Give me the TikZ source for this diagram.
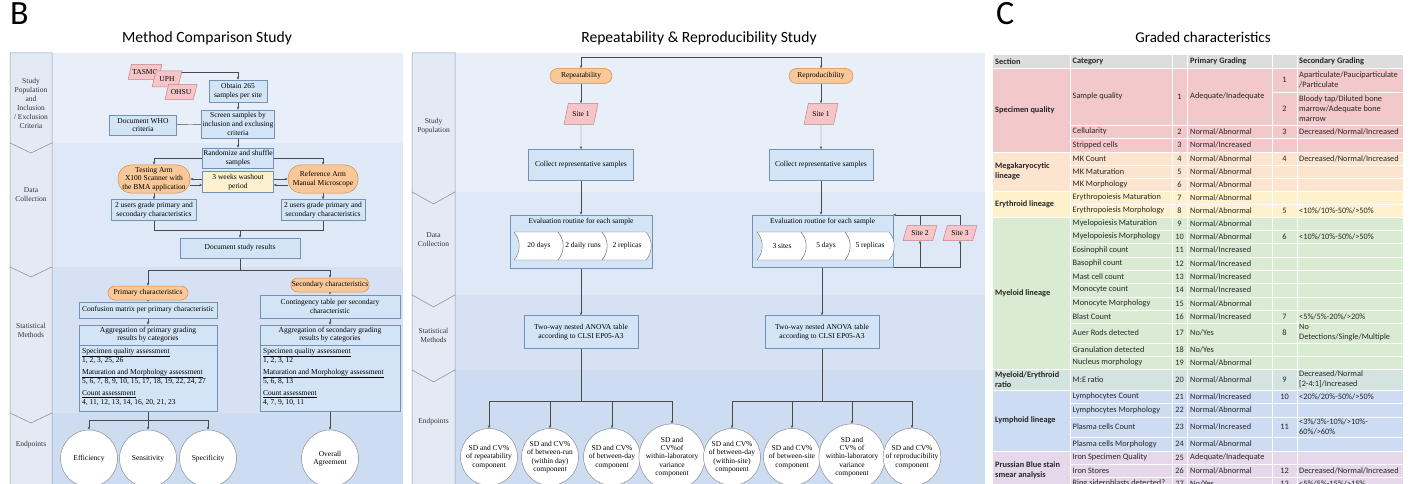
\documentclass[tikz,border=0pt]{standalone}
\usepackage{fontspec}
\setmainfont{Liberation Serif}
\newfontfamily\calib{Carlito}
\usetikzlibrary{shapes.geometric,arrows.meta}
\pgfdeclarelayer{back}\pgfdeclarelayer{lines}\pgfsetlayers{back,lines,main}
\definecolor{boxf}{HTML}{D2E4F6}
\definecolor{boxd}{HTML}{7391B4}
\definecolor{orgf}{HTML}{F9C898}
\definecolor{orgd}{HTML}{D38A4C}
\definecolor{pinkf}{HTML}{F6C5C8}
\definecolor{pinkd}{HTML}{C98088}
\definecolor{yelf}{HTML}{FDF0CF}
\definecolor{linec}{HTML}{4A4A4A}
\definecolor{laneA}{HTML}{E9EFF9}
\definecolor{laneB}{HTML}{DFE8F6}
\definecolor{laneC}{HTML}{D6E2F4}
\definecolor{laneD}{HTML}{CEDCF2}
\definecolor{labf}{HTML}{E4EAF4}
\definecolor{labd}{HTML}{8D9AAD}
\definecolor{tgray}{HTML}{DDDDDD}
\definecolor{tpink}{HTML}{F2C8CB}
\definecolor{torg}{HTML}{FCE4CF}
\definecolor{tyel}{HTML}{FEF2CD}
\definecolor{tgrn}{HTML}{DAEBD4}
\definecolor{tteal}{HTML}{D3E3DF}
\definecolor{tblu}{HTML}{CDDCF2}
\definecolor{tpur}{HTML}{E4D8EA}
\tikzset{
 ff/.style={font=\fontsize{7.5}{8.6}\selectfont},
 lab/.style={font=\fontsize{7.5}{9}\selectfont, align=center, text=black!80},
 bx/.style={draw=boxd, fill=boxf, line width=0.5pt, align=center, inner sep=1pt, ff},
 orng/.style={draw=orgd, fill=orgf, line width=0.5pt, align=center, inner sep=1pt, ff},
 para/.style={trapezium, trapezium left angle=65, trapezium right angle=115, trapezium stretches=true, draw=pinkd, fill=pinkf, line width=0.5pt, ff, inner sep=1pt},
 circ/.style={circle, draw=black!45, fill=white, line width=0.5pt, minimum size=57pt, inner sep=0pt, align=center, font=\fontsize{7.5}{8.4}\selectfont},
 arr/.style={-{Stealth[length=3pt,width=2.4pt]}, draw=linec, line width=0.45pt},
 ln/.style={draw=linec, line width=0.45pt},
 tt/.style={font=\calib\fontsize{8.3}{10}\selectfont, inner sep=0pt, align=left, text=black!85},
 tth/.style={font=\calib\bfseries\fontsize{8.3}{10}\selectfont, inner sep=0pt, align=left, text=black!85},
 sepl/.style={draw=white, line width=0.8pt},
 ttl/.style={font=\calib\fontsize{15.6}{18}\selectfont, anchor=base},
 big/.style={font=\calib\fontsize{34}{34}\selectfont, anchor=base west, inner sep=0pt},
}
\newcommand\chevshape[3]{%
 \draw[draw=black!55, fill=white, line width=0.4pt] (#1,232) .. controls (#1+7,240) and (#1+7,252) .. (#1,260) -- (#1+44,260) .. controls (#1+51,252) and (#1+51,240) .. (#1+44,232) -- cycle;
 \node[ff] (#3) at (#1+25,246) {#2};}
\begin{document}
\begin{tikzpicture}[x=1pt,y=-1pt]
\useasboundingbox (0,0) rectangle (1414,484);
\begin{pgfonlayer}{back}
\fill[white] (0,0) rectangle (1414,484);
% left panel lanes
\fill[laneA] (52,53) rectangle (403,143);
\fill[laneB] (52,143) rectangle (403,267);
\fill[laneC] (52,267) rectangle (403,413);
\fill[laneD] (52,413) rectangle (403,484);
\begin{scope}[fill=labf, draw=labd, line width=0.5pt]
\filldraw (10,53) -- (52,53) -- (52,143) -- (31,153) -- (10,143) -- cycle;
\filldraw (10,143) -- (31,153) -- (52,143) -- (52,267) -- (31,277) -- (10,267) -- cycle;
\filldraw (10,267) -- (31,277) -- (52,267) -- (52,413) -- (31,423) -- (10,413) -- cycle;
\filldraw (10,413) -- (31,423) -- (52,413) -- (52,490) -- (10,490) -- cycle;
\end{scope}
% middle panel lanes
\fill[laneA] (455,53) rectangle (985,192);
\fill[laneB] (455,192) rectangle (985,295);
\fill[laneC] (455,295) rectangle (985,370);
\fill[laneD] (455,370) rectangle (985,484);
\begin{scope}[fill=labf, draw=labd, line width=0.5pt]
\filldraw (412,53) -- (455,53) -- (455,192) -- (433.5,204) -- (412,192) -- cycle;
\filldraw (412,192) -- (433.5,204) -- (455,192) -- (455,295) -- (433.5,307) -- (412,295) -- cycle;
\filldraw (412,295) -- (433.5,307) -- (455,295) -- (455,370) -- (433.5,382) -- (412,370) -- cycle;
\filldraw (412,370) -- (433.5,382) -- (455,370) -- (455,490) -- (412,490) -- cycle;
\end{scope}
% table bands
\fill[tgray] (993,55) rectangle (1403,68);
\fill[tpink] (993,68) rectangle (1403,152);
\fill[torg] (993,152) rectangle (1403,191);
\fill[tyel] (993,191) rectangle (1403,217);
\fill[tgrn] (993,217) rectangle (1403,369);
\fill[tteal] (993,369) rectangle (1403,390);
\fill[tblu] (993,390) rectangle (1403,451);
\fill[tpur] (993,451) rectangle (1403,490);
\end{pgfonlayer}

% headings
\node[big] (lB) at (10,25) {B};
\node[big] (lC) at (996,25) {C};
\node[ttl] (t1) at (207,43) {Method Comparison Study};
\node[ttl] (t2) at (699,43) {Repeatability \& Reproducibility Study};
\node[ttl, font=\calib\fontsize{15}{18}\selectfont] (t3) at (1203,43) {Graded characteristics};

% lane labels
\node[lab] (la1) at (31,103.5) {Study\\Population\\and\\Inclusion\\/ Exclusion\\Criteria};
\node[lab] (la2) at (31,195) {Data\\Collection};
\node[lab] (la3) at (31,330) {Statistical\\Methods};
\node[lab] (la4) at (31,445) {Endpoints};
\node[lab] (lb1) at (433.5,126) {Study\\Population};
\node[lab] (lb2) at (433.5,240) {Data\\Collection};
\node[lab] (lb3) at (433.5,335) {Statistical\\Methods};
\node[lab] (lb4) at (433.5,422) {Endpoints};

% ---------- left panel ----------
\node[para, minimum width=28pt, minimum height=15pt] (tasmc) at (145,72) {TASMC};
\node[para, minimum width=30pt, minimum height=16pt] (uph) at (167,79) {UPH};
\node[para, minimum width=32pt, minimum height=15pt] (ohsu) at (181,92) {OHSU};
\node[bx, minimum width=58pt, minimum height=22pt] (obtain) at (238,91) {Obtain 265\\samples per site};
\node[bx, minimum width=71pt, minimum height=28pt] (screen) at (238,124) {Screen samples by\\inclusion and exclusing\\criteria};
\node[bx, minimum width=67pt, minimum height=20pt] (who) at (143,125) {Document WHO\\criteria};
\node[bx, minimum width=71pt, minimum height=20pt] (rand) at (238,158) {Randomize and shuffle\\samples};
\node[orng, rounded corners=13pt, minimum width=72pt, minimum height=28pt] (test) at (154,179) {Testing Arm\\X100 Scanner with\\the BMA application};
\node[bx, fill=yelf, minimum width=71pt, minimum height=21pt] (wash) at (238,182) {3 weeks washout\\period};
\node[orng, rounded corners=13pt, minimum width=70pt, minimum height=28pt] (ref) at (323,179) {Reference Arm\\Manual Microscope};
\node[bx, minimum width=85pt, minimum height=21pt] (usrL) at (154,210) {2 users grade primary and\\secondary characteristics};
\node[bx, minimum width=84pt, minimum height=21pt] (usrR) at (323,210) {2 users grade primary and\\secondary characteristics};
\node[bx, minimum width=120pt, minimum height=20pt] (doc) at (240,248) {Document study results};
\node[orng, rounded corners=7pt, minimum width=80pt, minimum height=14pt] (prim) at (148,293) {Primary characteristics};
\node[orng, rounded corners=7pt, minimum width=78pt, minimum height=14pt] (sec) at (330,285) {Secondary characteristics};
\node[bx, minimum width=138pt, minimum height=16pt] (conf) at (148,310) {Confusion matrix per primary characteristic};
\node[bx, minimum width=140pt, minimum height=23pt] (cont) at (330,306.5) {Contingency table per secondary\\characteristic};
\node[bx, minimum width=138pt, minimum height=86pt] (aggP) at (148,368) {};
\node[bx, minimum width=140pt, minimum height=86pt] (aggS) at (330,368) {};
\draw[draw=boxd, line width=0.5pt] (79,345) -- (217,345);
\draw[draw=boxd, line width=0.5pt] (260,345) -- (400,345);
\node[ff, align=center] (aggPh) at (148,334.5) {Aggregation of primary grading\\results by categories};
\node[ff, align=center] (aggSh) at (330,334.5) {Aggregation of secondary grading\\results by categories};
\node[anchor=north west, align=left, inner sep=0pt, font=\fontsize{7.5}{9}\selectfont] (aggPb) at (82,348) {\underline{Specimen quality assessment}\\1, 2, 3, 25, 26\\[3pt]\underline{Maturation and Morphology assessment}\\5, 6, 7, 8, 9, 10, 15, 17, 18, 19, 22, 24, 27\\[3pt]\underline{Count assessment}\\4, 11, 12, 13, 14, 16, 20, 21, 23};
\node[anchor=north west, align=left, inner sep=0pt, font=\fontsize{7.5}{9}\selectfont] (aggSb) at (263,348) {\underline{Specimen quality assessment}\\1, 2, 3, 12\\[3pt]\underline{Maturation and Morphology assessment}\\5, 6, 8, 13\\[3pt]\underline{Count assessment}\\4, 7, 9, 10, 11};
\node[circ] (eff) at (89,458.5) {Efficiency};
\node[circ] (sens) at (148,458.5) {Sensitivity};
\node[circ] (spec) at (208,458.5) {Specificity};
\node[circ] (over) at (330,458.5) {Overall\\Agreement};

% ---------- middle panel ----------
\node[orng, rounded corners=7.5pt, minimum width=62pt, minimum height=15pt] (rep) at (581,76) {Repeatability};
\node[orng, rounded corners=7.5pt, minimum width=64pt, minimum height=15pt] (repro) at (821,76) {Reproducibility};
\node[para, minimum width=34pt, minimum height=21pt] (s1L) at (581,114) {Site 1};
\node[para, minimum width=34pt, minimum height=21pt] (s1R) at (821,114) {Site 1};
\node[bx, minimum width=105pt, minimum height=31pt] (colL) at (581,165) {Collect representative samples};
\node[bx, minimum width=104pt, minimum height=31pt] (colR) at (821,165) {Collect representative samples};
\node[bx, minimum width=142pt, minimum height=53pt] (evL) at (581,241.5) {};
\node[bx, minimum width=141pt, minimum height=52pt] (evR) at (822.5,241) {};
\node[ff] (evLt) at (581,222) {Evaluation routine for each sample};
\node[ff] (evRt) at (822.5,222) {Evaluation routine for each sample};
\chevshape{514}{20 days}{chA}
\chevshape{558}{2 daily runs}{chB}
\chevshape{602}{2 replicas}{chC}
\chevshape{757}{3 sites}{chD}
\chevshape{801}{5 days}{chE}
\chevshape{845}{5 replicas}{chF}
\node[para, minimum width=34pt, minimum height=15pt] (s2) at (920,233) {Site 2};
\node[para, minimum width=34pt, minimum height=15pt] (s3) at (960,233) {Site 3};
\node[bx, minimum width=114pt, minimum height=33pt] (anL) at (581,332) {Two-way nested ANOVA table\\according to CLSI EP05-A3};
\node[bx, minimum width=114pt, minimum height=33pt] (anR) at (822,332) {Two-way nested ANOVA table\\according to CLSI EP05-A3};
\node[circ] (c1) at (489,457) {SD and CV\%\\of repeatability\\component};
\node[circ] (c2) at (550,457) {SD and CV\%\\of between-run\\(within day)\\component};
\node[circ] (c3) at (612,457) {SD and CV\%\\of between-day\\component};
\node[circ] (c4) at (672,457) {SD and\\CV\%of\\within-laboratory\\variance\\component};
\node[circ] (c5) at (732,457) {SD and CV\%\\of between-day\\(within-site)\\component};
\node[circ] (c6) at (792,457) {SD and CV\%\\of between-site\\component};
\node[circ] (c7) at (852,457) {SD and\\CV\% of\\within-laboratory\\variance\\component};
\node[circ] (c8) at (912,457) {SD and CV\%\\of reproducibility\\component};

% ---------- connectors ----------
\begin{pgfonlayer}{lines}
\draw[arr] (tasmc.east) -| (obtain.north);
\draw[arr] (obtain) -- (screen);
\draw[ln] (who) -- (screen);
\draw[arr] (screen) -- (rand);
\draw[arr] (rand.west) -| (test.north);
\draw[arr] (rand.east) -| (ref.north);
\coordinate (wl1) at ([yshift=3pt]wash.west);
\coordinate (wl2) at ([yshift=-3pt]wash.west);
\coordinate (wr1) at ([yshift=3pt]wash.east);
\coordinate (wr2) at ([yshift=-3pt]wash.east);
\draw[arr] (wl1) -- (wl1 -| test.east);
\draw[arr] (wl2 -| test.east) -- (wl2);
\draw[arr] (wr1) -- (wr1 -| ref.west);
\draw[arr] (wr2 -| ref.west) -- (wr2);
\draw[arr] (test) -- (usrL);
\draw[arr] (ref) -- (usrR);
\coordinate (mj) at (240,230);
\draw[ln] (usrL.south) |- (mj);
\draw[ln] (usrR.south) |- (mj);
\draw[arr] (mj) -- (doc.north);
\coordinate (sp) at (240,270);
\draw[ln] (doc.south) -- (sp);
\draw[arr] (sp) -| (prim.north);
\draw[arr] (sp) -| (sec.north);
\draw[arr] (prim) -- (conf);
\draw[arr] (conf) -- (aggP);
\draw[arr] (sec) -- (cont);
\draw[arr] (cont) -- (aggS);
\coordinate (ep) at (148,420);
\draw[ln] (aggP.south) -- (ep);
\draw[arr] (ep) -| (eff.north);
\draw[arr] (ep) -- (sens.north);
\draw[arr] (ep) -| (spec.north);
\draw[arr] (aggS) -- (over);
% middle
\coordinate (topL) at (581,57);
\coordinate (topR) at (821,57);
\draw[ln] (topL) -- (topR);
\draw[arr] (topL) -- (rep);
\draw[arr] (topR) -- (repro);
\draw[arr] (rep) -- (s1L);
\draw[arr] (repro) -- (s1R);
\draw[arr] (s1L) -- (colL);
\draw[arr] (s1R) -- (colR);
\draw[arr] (colL) -- (evL);
\draw[arr] (colR.south) -- (colR.south |- evR.north);
\draw[arr] (evL) -- (anL);
\draw[arr] (evR.south -| anR.north) -- (anR.north);
\draw[arr] (s3.north) |- (evR.north east);
\draw[ln] (s2.north) -- (s2.north |- evR.north);
\draw[arr] (evR.south east) -| (s3.south);
\draw[arr] (s2.south |- evR.south) -- (s2.south);
\coordinate (bL) at (581,401);
\coordinate (bR) at (822,401);
\draw[ln] (anL) -- (bL);
\draw[ln] (anR) -- (bR);
\foreach \c in {c1,c2,c3,c4} {\draw[arr] (bL) -| (\c.north);}
\foreach \c in {c5,c6,c7,c8} {\draw[arr] (bR) -| (\c.north);}
\end{pgfonlayer}

% ---------- table ----------
\foreach \n/\a/\b/\cat/\pri in {
1/68/125/Sample quality/Adequate\slash Inadequate,
2/125/138/Cellularity/Normal\slash Abnormal,
3/138/152/Stripped cells/Normal\slash Increased,
4/152/165/MK Count/Normal\slash Abnormal,
5/165/178/MK Maturation/Normal\slash Abnormal,
6/178/191/MK Morphology/Normal\slash Abnormal,
7/191/204/Erythropoiesis Maturation/Normal\slash Abnormal,
8/204/217/Erythropoiesis Morphology/Normal\slash Abnormal,
9/217/230/Myelopoiesis Maturation/Normal\slash Abnormal,
10/230/243/Myelopoiesis Morphology/Normal\slash Abnormal,
11/243/257/Eosinophil count/Normal\slash Increased,
12/257/270/Basophil count/Normal\slash Increased,
13/270/283/Mast cell count/Normal\slash Increased,
14/283/297/Monocyte count/Normal\slash Increased,
15/297/310/Monocyte Morphology/Normal\slash Abnormal,
16/310/323/Blast Count/Normal\slash Increased,
17/323/343/Auer Rods detected/No\slash Yes,
18/343/356/Granulation detected/No\slash Yes,
19/356/369/Nucleus morphology/Normal\slash Abnormal,
20/369/390/M:E ratio/Normal\slash Abnormal,
21/390/403/Lymphocytes Count/Normal\slash Increased,
22/403/417/Lymphocytes Morphology/Normal\slash Abnormal,
23/417/437/Plasma cells Count/Normal\slash Increased,
24/437/451/Plasma cells Morphology/Normal\slash Abnormal,
25/451/464/Iron Specimen Quality/Adequate\slash Inadequate,
26/464/477/Iron Stores/Normal\slash Abnormal,
27/477/490/Ring sideroblasts detected?/No\slash Yes}{
 \draw[sepl] (1070,\b) -- (1403,\b);
 \node[tt, anchor=west] (cat\n) at (1072.5,{(\a+\b)/2}) {\cat};
 \node[tt] (pn\n) at (1179.5,{(\a+\b)/2}) {\n};
 \node[tt, anchor=west] (pv\n) at (1190,{(\a+\b)/2}) {\pri};
}
\foreach \y in {68,152,191,217,369,390,451} {\draw[sepl] (993,\y) -- (1403,\y);}
\draw[sepl] (1272,92) -- (1403,92);
\foreach \x in {1070,1172,1187,1272,1297} {\draw[sepl] (\x,55) -- (\x,490);}
\foreach \m/\y/\txt in {
1/80/{Aparticulate\slash Pauciparticulate\\\slash Particulate},
2/108.5/{Bloody tap\slash Diluted bone\\marrow\slash Adequate bone\\marrow},
3/131.5/Decreased\slash Normal\slash Increased,
4/158.5/Decreased\slash Normal\slash Increased,
5/210.5/<10\%\slash 10\%-50\%\slash >50\%,
6/236.5/<10\%\slash 10\%-50\%\slash >50\%,
7/316.5/<5\%\slash 5\%-20\%\slash >20\%,
8/333/{No\\Detections\slash Single\slash Multiple},
9/379.5/{Decreased\slash Normal\\{[2-4:1]}\slash Increased},
10/396.5/<20\%\slash 20\%-50\%\slash >50\%,
11/427/{<3\%\slash 3\%-10\%\slash >10\%-\\60\%\slash >60\%},
12/470.5/Decreased\slash Normal\slash Increased,
13/483.5/<5\%\slash 5\%-15\%\slash >15\%}{
 \node[tt] (sn\m) at (1284.5,\y) {\m};
 \node[tt, anchor=west] (sv\m) at (1299,\y) {\txt};
}
\node[tth, anchor=west] (hA) at (995,61.5) {Section};
\node[tth, anchor=west] (hB) at (1072.5,61.5) {Category};
\node[tth, anchor=west] (hC) at (1190,61.5) {Primary Grading};
\node[tth, anchor=west] (hD) at (1299,61.5) {Secondary Grading};
\node[tth, anchor=west] (secA) at (995,110) {Specimen quality};
\node[tth, anchor=west] (secB) at (995,171.5) {Megakaryocytic\\lineage};
\node[tth, anchor=west] (secC) at (995,204) {Erythroid lineage};
\node[tth, anchor=west] (secD) at (995,293) {Myeloid lineage};
\node[tth, anchor=west] (secE) at (995,379.5) {Myeloid/Erythroid\\ratio};
\node[tth, anchor=west] (secF) at (995,420.5) {Lymphoid lineage};
\node[tth, anchor=west] (secG) at (995,470.5) {Prussian Blue stain\\smear analysis};
\end{tikzpicture}
\end{document}
